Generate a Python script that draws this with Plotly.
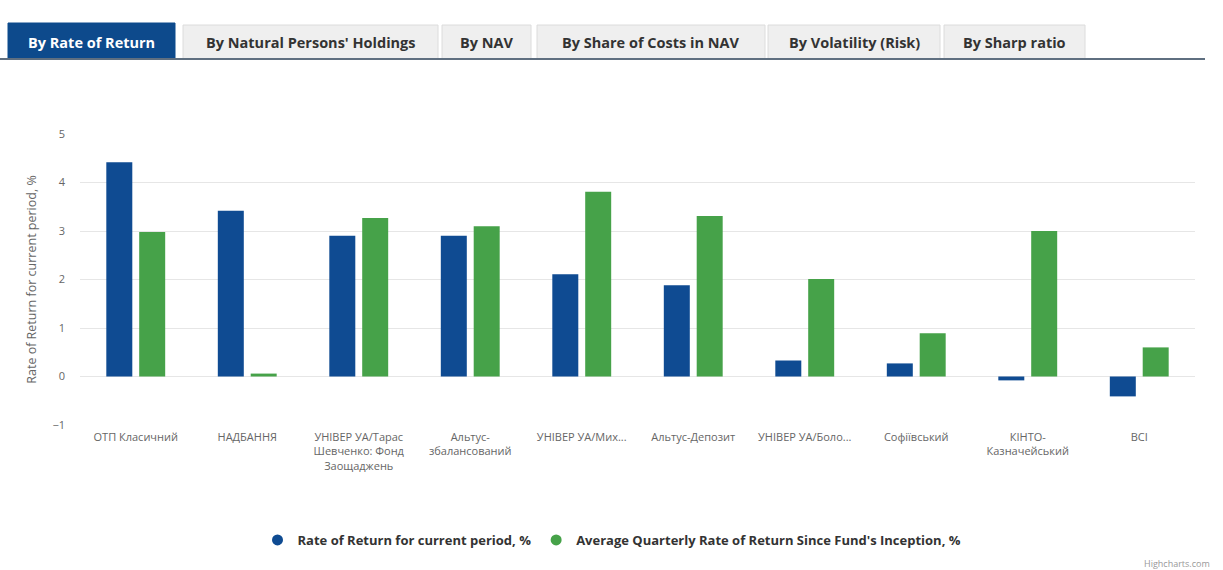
import plotly.graph_objects as go

categories = [
    "ОТП Класичний",
    "НАДБАННЯ",
    "УНІВЕР УА/Тарас<br>Шевченко: Фонд<br>Заощаджень",
    "Альтус-<br>збалансований",
    "УНІВЕР УА/Мих...",
    "Альтус-Депозит",
    "УНІВЕР УА/Боло...",
    "Софіївський",
    "КІНТО-<br>Казначейський",
    "ВСІ",
]
rate_current = [4.42, 3.42, 2.9, 2.9, 2.11, 1.88, 0.33, 0.27, -0.08, -0.41]
rate_avg = [2.98, 0.06, 3.27, 3.1, 3.81, 3.31, 2.01, 0.89, 3.0, 0.6]
series_names = [
    "Rate of Return for current period, %",
    "Average Quarterly Rate of Return Since Fund's Inception, %",
]
tabs = [
    "By Rate of Return",
    "By Natural Persons' Holdings",
    "By NAV",
    "By Share of Costs in NAV",
    "By Volatility (Risk)",
    "By Sharp ratio",
]
y_ticks = [-1, 0, 1, 2, 3, 4, 5]

BLUE = "#0f4b92"
GREEN = "#46a249"
FONT = "Open Sans"

W, H = 1223, 570
ML, MR, MT, MB = 80, 28, 134, 145
PW = W - ML - MR
PH = H - MT - MB


def px(x):
    return (x - ML) / PW


def py(y):
    return (H - MB - y) / PH


fig = go.Figure()
fig.add_trace(go.Bar(x=categories, y=rate_current, name=series_names[0],
                     marker=dict(color=BLUE, line=dict(width=0)), showlegend=False))
fig.add_trace(go.Bar(x=categories, y=rate_avg, name=series_names[1],
                     marker=dict(color=GREEN, line=dict(width=0)), showlegend=False))
# legend entries with round markers
for name, col in zip(series_names, [BLUE, GREEN]):
    fig.add_trace(go.Scatter(x=[None], y=[None], mode="markers", name=name,
                             marker=dict(color=col, size=11, symbol="circle")))

shapes = []
annotations = []
tab_x = [(8, 175), (183, 438), (442, 531), (537, 765), (768, 940), (944, 1085)]
for i, (label, (x0, x1)) in enumerate(zip(tabs, tab_x)):
    active = i == 0
    shapes.append(dict(type="rect", xref="paper", yref="paper",
                       x0=px(x0), x1=px(x1), y0=py(59), y1=py(23 if active else 25),
                       fillcolor="#0d4a8c" if active else "#efefef",
                       line=dict(color="#0d4a8c" if active else "#dcdcdc", width=1),
                       layer="above"))
    annotations.append(dict(xref="paper", yref="paper", x=px((x0 + x1) / 2), y=py(42),
                            text="<b>%s</b>" % label, showarrow=False,
                            font=dict(family=FONT, size=14.5,
                                      color="#ffffff" if active else "#333333"),
                            xanchor="center", yanchor="middle"))
shapes.append(dict(type="line", xref="paper", yref="paper", x0=px(0), x1=px(1205),
                   y0=py(59), y1=py(59), line=dict(color="#5f6f80", width=2)))
annotations.append(dict(xref="paper", yref="paper", x=px(1212), y=py(563),
                        text="Highcharts.com", showarrow=False,
                        font=dict(family=FONT, size=9, color="#999999"),
                        xanchor="right", yanchor="middle"))

fig.update_layout(
    width=W, height=H,
    margin=dict(l=ML, r=MR, t=MT, b=MB),
    paper_bgcolor="white", plot_bgcolor="white",
    font=dict(family=FONT, color="#666666"),
    barmode="group", bargap=0.41, bargroupgap=0.21,
    shapes=shapes, annotations=annotations,
    legend=dict(orientation="h", x=px(612), xanchor="center", y=py(540), yanchor="middle",
                font=dict(family=FONT, size=13, color="#333333", weight="bold"),
                itemwidth=30, tracegroupgap=20),
    xaxis=dict(showgrid=False, showline=False, ticks="",
               tickfont=dict(family=FONT, size=11, color="#666666"),
               tickangle=0, fixedrange=True, ticklabelstandoff=4),
    yaxis=dict(range=[-1, 5], tickvals=y_ticks, showgrid=True, gridcolor="#e6e6e6",
               zeroline=True, zerolinecolor="#e6e6e6", zerolinewidth=1,
               tickfont=dict(family=FONT, size=11, color="#666666"),
               ticklabelstandoff=14,
               title=dict(text="Rate of Return for current period, %",
                          font=dict(family=FONT, size=12.5, color="#666666"), standoff=13),
               ticks="", fixedrange=True),
)

fig.write_html("out.html")
